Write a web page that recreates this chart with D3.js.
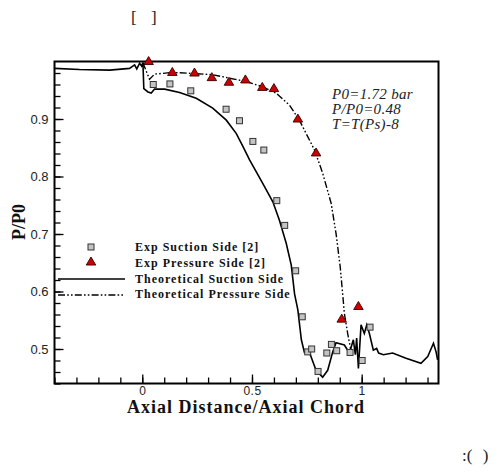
<!DOCTYPE html>
<html>
<head>
<meta charset="utf-8">
<script src="https://cdn.jsdelivr.net/npm/d3@7"></script>
<style>
  html, body { margin: 0; padding: 0; background: #fff; }
  svg { display: block; }
</style>
</head>
<body>
<svg id="chart" width="500" height="476"></svg>
<script>
// ---- data ----
const expSuction = [
  [0.050, 0.960], [0.126, 0.961], [0.221, 0.949], [0.382, 0.917], [0.443, 0.897],
  [0.504, 0.861], [0.554, 0.846], [0.613, 0.758], [0.649, 0.715], [0.699, 0.636],
  [0.729, 0.556], [0.754, 0.495], [0.772, 0.500], [0.801, 0.461], [0.841, 0.493],
  [0.862, 0.508], [0.886, 0.497], [0.947, 0.494], [1.002, 0.480], [1.038, 0.538]
];
const expPressure = [
  [0.029, 1.000], [0.137, 0.981], [0.238, 0.980], [0.317, 0.972], [0.395, 0.964],
  [0.470, 0.968], [0.547, 0.955], [0.600, 0.953], [0.709, 0.900], [0.792, 0.841],
  [0.909, 0.552], [0.985, 0.574]
];
const theoSuction = [
  [-0.399, 0.988], [-0.286, 0.986], [-0.149, 0.985], [-0.058, 0.988], [-0.035, 0.994],
  [-0.025, 0.987], [-0.012, 0.997], [-0.003, 0.992], [0.003, 0.998], [0.007, 0.953],
  [0.026, 0.947], [0.041, 0.945], [0.056, 0.952], [0.102, 0.952], [0.170, 0.946],
  [0.246, 0.936], [0.321, 0.919], [0.383, 0.898], [0.428, 0.875], [0.458, 0.853],
  [0.489, 0.829], [0.549, 0.788], [0.595, 0.756], [0.625, 0.724], [0.656, 0.684],
  [0.679, 0.646], [0.694, 0.596], [0.709, 0.568], [0.725, 0.516], [0.739, 0.494],
  [0.762, 0.494], [0.792, 0.463], [0.822, 0.451], [0.845, 0.463], [0.868, 0.495],
  [0.883, 0.511], [0.921, 0.507], [0.944, 0.493], [0.962, 0.516], [0.971, 0.490],
  [0.977, 0.519], [0.985, 0.466], [0.997, 0.542], [1.012, 0.527], [1.023, 0.542],
  [1.035, 0.527], [1.053, 0.498], [1.068, 0.501], [1.077, 0.493], [1.099, 0.490],
  [1.141, 0.493], [1.202, 0.484], [1.270, 0.475], [1.301, 0.487], [1.327, 0.510],
  [1.339, 0.495], [1.346, 0.481]
];
const theoPressure = [
  [0.003, 0.998], [0.033, 0.969], [0.056, 0.978], [0.137, 0.981], [0.238, 0.979],
  [0.321, 0.977], [0.398, 0.971], [0.474, 0.965], [0.549, 0.956], [0.610, 0.945],
  [0.671, 0.924], [0.716, 0.898], [0.785, 0.846], [0.822, 0.806], [0.861, 0.753],
  [0.883, 0.701], [0.902, 0.643], [0.913, 0.597], [0.921, 0.562], [0.936, 0.527],
  [0.952, 0.495]
];
const xTickLabels = [0, 0.5, 1];
const yTickLabels = [0.5, 0.6, 0.7, 0.8, 0.9];
const legendLabels = ["Exp Suction Side [2]", "Exp Pressure Side [2]", "Theoretical Suction Side", "Theoretical Pressure Side"];
const annotations = ["P0=1.72 bar", "P/P0=0.48", "T=T(Ps)-8"];

// ---- layout ----
const svg = d3.select("#chart");
const L = 54.5, R = 438.5, T = 61.5, B = 383.5;
const x = d3.scaleLinear().domain([-0.4, 1.35]).range([L, R]);
const y = d3.scaleLinear().domain([0.44, 1.0]).range([B, T]);

svg.append("defs").append("clipPath").attr("id", "clip")
  .append("rect").attr("x", L).attr("y", T).attr("width", R - L).attr("height", B - T);

// ticks (inward)
const xMinor = d3.range(-4, 14).map(i => i / 10);
const yMinor = d3.range(22, 50).map(i => i / 50);
const gx = svg.append("g").attr("transform", `translate(0,${B})`);
gx.call(d3.axisBottom(x).tickValues(xMinor).tickSize(-6).tickFormat(""));
gx.call(g => g.select(".domain").remove());
const gx2 = svg.append("g").attr("transform", `translate(0,${B})`);
gx2.call(d3.axisBottom(x).tickValues(xTickLabels).tickSize(-9).tickPadding(3)
  .tickFormat(d => d3.format("")(d)));
gx2.call(g => g.select(".domain").remove());
gx2.selectAll("text").attr("font-family", "Liberation Sans, Arial, sans-serif")
  .attr("font-size", 12).attr("letter-spacing", 0.5).attr("fill", "#222")
  .attr("y", 11.5).attr("dy", null);

const gy = svg.append("g").attr("transform", `translate(${L},0)`);
gy.call(d3.axisLeft(y).tickValues(yMinor).tickSize(-6).tickFormat(""));
gy.call(g => g.select(".domain").remove());
const gy2 = svg.append("g").attr("transform", `translate(${L},0)`);
gy2.call(d3.axisLeft(y).tickValues(yTickLabels).tickSize(-9).tickPadding(6)
  .tickFormat(d3.format(".1f")));
gy2.call(g => g.select(".domain").remove());
gy2.selectAll("text").attr("font-family", "Liberation Sans, Arial, sans-serif")
  .attr("font-size", 13).attr("fill", "#222");
svg.selectAll(".tick line").attr("stroke", "#000").attr("stroke-width", 1.3);

// lines
const line = d3.line().x(d => x(d[0])).y(d => y(d[1]));
const plot = svg.append("g").attr("clip-path", "url(#clip)");
plot.append("path").datum(theoSuction).attr("d", line)
  .attr("fill", "none").attr("stroke", "#000").attr("stroke-width", 1.6);
const dashPattern = "7,2.2,1.6,2.2,1.6,2.2";
plot.append("path").datum(theoPressure).attr("d", line)
  .attr("fill", "none").attr("stroke", "#000").attr("stroke-width", 1.4)
  .attr("stroke-dasharray", dashPattern);

// frame
svg.append("rect").attr("x", L).attr("y", T).attr("width", R - L).attr("height", B - T)
  .attr("fill", "none").attr("stroke", "#000").attr("stroke-width", 2);

// markers
const sq = 6;
svg.append("g").selectAll("rect").data(expSuction).join("rect")
  .attr("x", d => x(d[0]) - sq / 2).attr("y", d => y(d[1]) - sq / 2)
  .attr("width", sq).attr("height", sq)
  .attr("fill", "#c4c4c4").attr("stroke", "#333").attr("stroke-width", 1);
const tri = (cx, cy, w, h) => `M${cx},${cy - h * 0.62}L${cx + w / 2},${cy + h * 0.38}L${cx - w / 2},${cy + h * 0.38}Z`;
svg.append("g").selectAll("path").data(expPressure).join("path")
  .attr("d", d => tri(x(d[0]), y(d[1]), 9.5, 8))
  .attr("fill", "#cc0000").attr("stroke", "#300").attr("stroke-width", 0.9);

// legend
const lg = svg.append("g");
lg.append("rect").attr("x", 91 - sq / 2).attr("y", 247 - sq / 2).attr("width", sq).attr("height", sq)
  .attr("fill", "#c4c4c4").attr("stroke", "#333").attr("stroke-width", 1);
lg.append("path").attr("d", tri(91, 262, 9.5, 8))
  .attr("fill", "#cc0000").attr("stroke", "#300").attr("stroke-width", 0.9);
lg.append("line").attr("x1", 58).attr("x2", 125).attr("y1", 279).attr("y2", 279)
  .attr("stroke", "#000").attr("stroke-width", 1.6);
lg.append("line").attr("x1", 58).attr("x2", 125).attr("y1", 295).attr("y2", 295)
  .attr("stroke", "#000").attr("stroke-width", 1.4).attr("stroke-dasharray", dashPattern);
const legY = [251, 266.5, 282.5, 298.3];
lg.selectAll("text").data(legendLabels).join("text")
  .attr("x", 135).attr("y", (d, i) => legY[i]).text(d => d)
  .attr("font-family", "Liberation Serif, Times New Roman, serif")
  .attr("font-weight", "bold").attr("font-size", 12).attr("letter-spacing", 1)
  .attr("fill", "#111");

// annotations
const annY = [99, 114, 128.5];
svg.append("g").selectAll("text").data(annotations).join("text")
  .attr("x", 332).attr("y", (d, i) => annY[i]).text(d => d)
  .attr("font-family", "Liberation Serif, Times New Roman, serif")
  .attr("font-style", "italic").attr("font-size", 15).attr("letter-spacing", 0.3)
  .attr("fill", "#222");

// axis titles
svg.append("text").attr("x", 246).attr("y", 412.5).attr("text-anchor", "middle")
  .text("Axial Distance/Axial Chord")
  .attr("font-family", "Liberation Serif, Times New Roman, serif")
  .attr("font-weight", "bold").attr("font-size", 18).attr("letter-spacing", 1)
  .attr("fill", "#111");
svg.append("text").attr("transform", "translate(25,222) rotate(-90)").attr("text-anchor", "middle")
  .text("P/P0")
  .attr("font-family", "Liberation Serif, Times New Roman, serif")
  .attr("font-weight", "bold").attr("font-size", 18).attr("fill", "#111");

// stray caption fragments
svg.append("text").attr("x", 131).attr("y", 23).text("[ ]")
  .attr("font-family", "Liberation Serif, Times New Roman, serif")
  .attr("font-size", 17).attr("word-spacing", 10).attr("fill", "#222")
  .style("white-space", "pre");
svg.append("text").attr("x", 462).attr("y", 461).text(":( )")
  .attr("font-family", "Liberation Serif, Times New Roman, serif")
  .attr("font-size", 17).attr("word-spacing", 6).attr("fill", "#222")
  .style("white-space", "pre");
</script>
</body>
</html>
